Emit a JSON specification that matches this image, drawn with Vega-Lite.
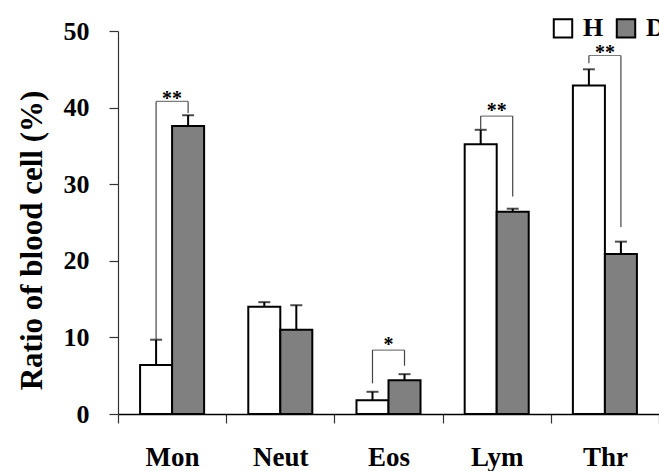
{
  "$schema": "https://vega.github.io/schema/vega-lite/v6.json",
  "width": 541,
  "height": 383,
  "autosize": {"type": "none"},
  "padding": {"left": 118, "top": 31, "right": 0, "bottom": 57},
  "background": "white",
  "config": {
    "view": {"stroke": null},
    "font": "Liberation Serif, DejaVu Serif, serif"
  },
  "datasets": {
    "bars": [
      {"cell": "Mon", "group": "H", "mean": 6.4, "upper": 9.7},
      {"cell": "Mon", "group": "D", "mean": 37.6, "upper": 39.0},
      {"cell": "Neut", "group": "H", "mean": 14.0, "upper": 14.6},
      {"cell": "Neut", "group": "D", "mean": 11.0, "upper": 14.2},
      {"cell": "Eos", "group": "H", "mean": 1.8, "upper": 2.9},
      {"cell": "Eos", "group": "D", "mean": 4.4, "upper": 5.2},
      {"cell": "Lym", "group": "H", "mean": 35.2, "upper": 37.1},
      {"cell": "Lym", "group": "D", "mean": 26.4, "upper": 26.8},
      {"cell": "Thr", "group": "H", "mean": 42.9, "upper": 45.0},
      {"cell": "Thr", "group": "D", "mean": 20.9, "upper": 22.5}
    ],
    "legs": [
      {"cell": "Mon", "group": "H", "top": 40.8, "bottom": 9.7},
      {"cell": "Mon", "group": "D", "top": 40.8, "bottom": 39.3},
      {"cell": "Eos", "group": "H", "top": 8.35, "bottom": 4.0},
      {"cell": "Eos", "group": "D", "top": 8.35, "bottom": 6.3},
      {"cell": "Lym", "group": "H", "top": 38.9, "bottom": 37.1},
      {"cell": "Lym", "group": "D", "top": 38.9, "bottom": 28.4},
      {"cell": "Thr", "group": "H", "top": 46.8, "bottom": 45.8},
      {"cell": "Thr", "group": "D", "top": 46.8, "bottom": 24.4}
    ],
    "brackets": [
      {"cell": "Mon", "top": 40.8, "star": 40.4, "label": "**"},
      {"cell": "Eos", "top": 8.35, "star": 8.2, "label": "*"},
      {"cell": "Lym", "top": 38.9, "star": 38.8, "label": "**"},
      {"cell": "Thr", "top": 46.8, "star": 46.4, "label": "**"}
    ]
  },
  "encoding": {
    "x": {
      "field": "cell",
      "type": "nominal",
      "sort": ["Mon", "Neut", "Eos", "Lym", "Thr"],
      "scale": {"paddingInner": 0, "paddingOuter": 0},
      "axis": {
        "title": null,
        "labelAngle": 0,
        "tickBand": "extent",
        "tickSize": 9,
        "tickColor": "#333",
        "tickWidth": 1.2,
        "domainColor": "black",
        "domainWidth": 1.5,
        "labelFont": "Liberation Serif, DejaVu Serif, serif",
        "labelFontSize": 27,
        "labelFontWeight": "bold",
        "labelColor": "black",
        "labelPadding": 21
      }
    }
  },
  "layer": [
    {
      "data": {"name": "bars"},
      "mark": {"type": "bar", "stroke": "black", "strokeWidth": 2},
      "encoding": {
        "xOffset": {"field": "group", "type": "nominal", "sort": ["H", "D"], "scale": {"paddingInner": 0, "paddingOuter": 0.69}},
        "y": {
          "field": "mean",
          "type": "quantitative",
          "scale": {"domain": [0, 50], "nice": false},
          "axis": {
            "title": "Ratio of blood cell (%)",
            "values": [0, 10, 20, 30, 40, 50],
            "grid": false,
            "tickSize": 9,
            "tickColor": "#333",
            "tickWidth": 1.2,
            "domainColor": "#333",
            "domainWidth": 1.2,
            "labelFont": "Liberation Serif, DejaVu Serif, serif",
            "labelFontSize": 26,
            "labelFontWeight": "bold",
            "labelColor": "black",
            "labelPadding": 20,
            "titleFont": "Liberation Serif, DejaVu Serif, serif",
            "titleFontSize": 31,
            "titleFontWeight": "bold",
            "titleColor": "black",
            "titlePadding": 15,
            "titleY": 209
          }
        },
        "fill": {
          "field": "group",
          "type": "nominal",
          "scale": {"domain": ["H", "D"], "range": ["white", "#808080"]},
          "legend": {
            "title": null,
            "orient": "none",
            "legendX": 432,
            "legendY": -16,
            "direction": "horizontal",
            "padding": 0,
            "symbolType": "square",
            "symbolSize": 340,
            "symbolStrokeColor": "black",
            "symbolStrokeWidth": 2,
            "labelFont": "Liberation Serif, DejaVu Serif, serif",
            "labelFontSize": 26,
            "labelFontWeight": "bold",
            "labelColor": "black",
            "labelOffset": 7,
            "columnPadding": 8
          }
        }
      }
    },
    {
      "data": {"name": "bars"},
      "mark": {"type": "rule", "color": "black", "strokeWidth": 2},
      "encoding": {
        "xOffset": {"field": "group", "type": "nominal", "sort": ["H", "D"]},
        "y": {"field": "mean", "type": "quantitative"},
        "y2": {"field": "upper"}
      }
    },
    {
      "data": {"name": "bars"},
      "mark": {"type": "tick", "color": "black", "thickness": 2, "size": 12, "orient": "horizontal"},
      "encoding": {
        "xOffset": {"field": "group", "type": "nominal", "sort": ["H", "D"]},
        "y": {"field": "upper", "type": "quantitative"}
      }
    },
    {
      "data": {"name": "legs"},
      "mark": {"type": "rule", "color": "#444", "strokeWidth": 1.2},
      "encoding": {
        "xOffset": {"field": "group", "type": "nominal", "sort": ["H", "D"]},
        "y": {"field": "top", "type": "quantitative"},
        "y2": {"field": "bottom"}
      }
    },
    {
      "data": {"name": "brackets"},
      "mark": {"type": "tick", "color": "#444", "thickness": 1.2, "size": 32, "orient": "horizontal"},
      "encoding": {
        "y": {"field": "top", "type": "quantitative"}
      }
    },
    {
      "data": {"name": "brackets"},
      "mark": {"type": "text", "font": "Liberation Serif, DejaVu Serif, serif", "fontSize": 20, "fontWeight": "bold", "color": "black", "baseline": "alphabetic", "align": "center"},
      "encoding": {
        "y": {"field": "star", "type": "quantitative"},
        "text": {"field": "label"}
      }
    }
  ]
}
